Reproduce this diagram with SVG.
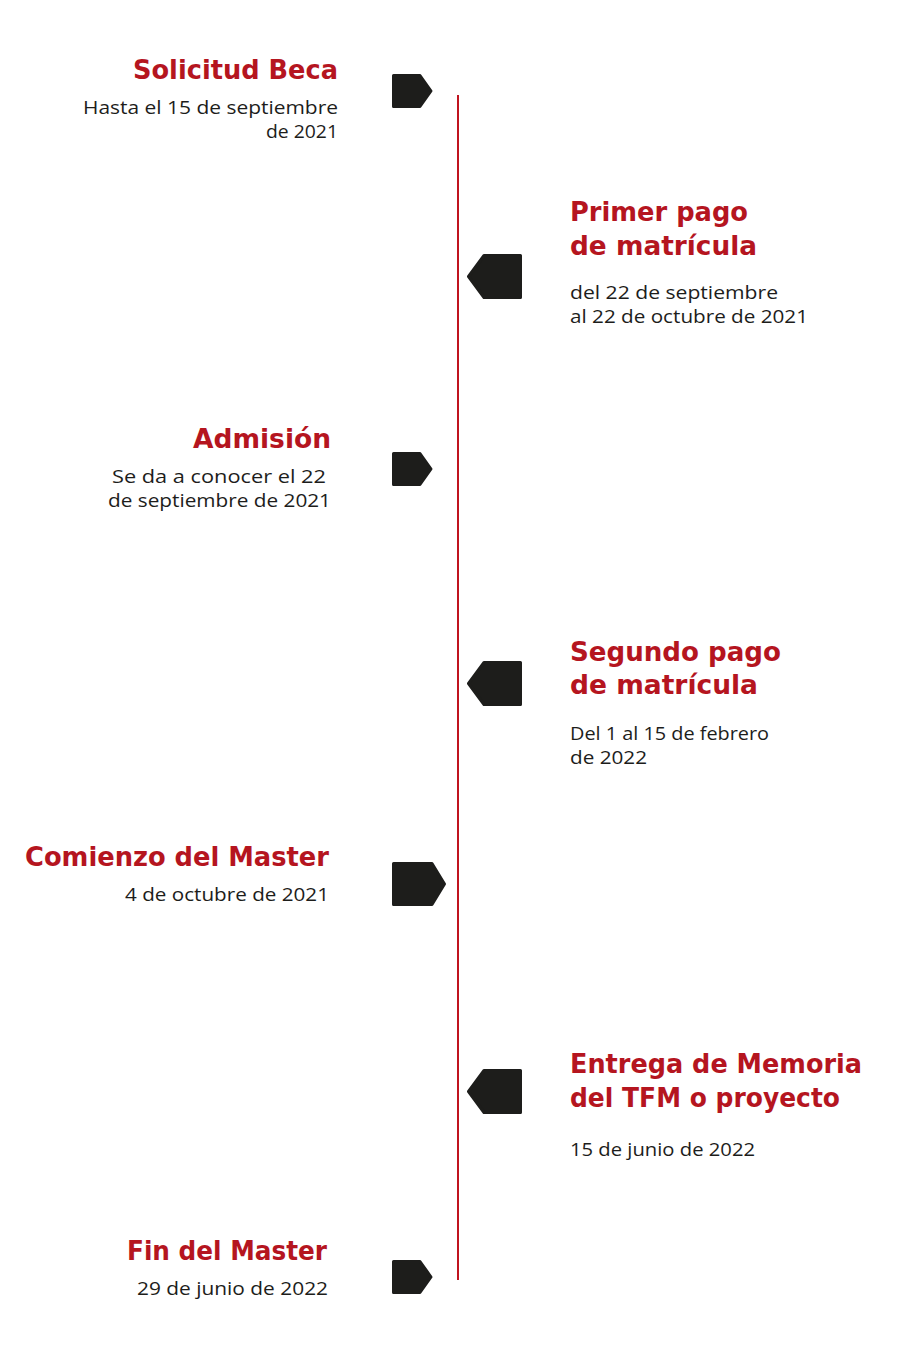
<svg xmlns="http://www.w3.org/2000/svg" width="905" height="1353" viewBox="0 0 905 1353">
<style>
.t{font-family:"DejaVu Sans","Liberation Sans",sans-serif;font-weight:700;font-size:26px;fill:#b5151f}
.s{font-family:"Open Sans","Liberation Sans",sans-serif;font-weight:400;font-size:18.5px;fill:#1d1d1b}
.e{text-anchor:end}
.m{fill:#1d1d1b;stroke:#1d1d1b;stroke-width:3;stroke-linejoin:round}
</style>
<rect width="905" height="1353" fill="#ffffff"/>
<g id="connectors">
<line x1="458" y1="95" x2="458" y2="1280" stroke="#c0141f" stroke-width="2"/>
</g>
<g id="solicitud">
<path class="m" d="M393.5,75.5 H420 L431,91 L420,106.5 H393.5 Z"/>
<text class="t e" x="338" y="79" textLength="205" lengthAdjust="spacingAndGlyphs">Solicitud Beca</text>
<text class="s e" x="338" y="114" textLength="255" lengthAdjust="spacingAndGlyphs">Hasta el 15 de septiembre</text>
<text class="s e" x="338" y="138" textLength="72" lengthAdjust="spacingAndGlyphs">de 2021</text>
</g>
<g id="primer">
<path class="m" d="M520.5,255.5 H484 L468.5,276.5 L484,297.5 H520.5 Z"/>
<text class="t" x="570" y="221" textLength="178" lengthAdjust="spacingAndGlyphs">Primer pago</text>
<text class="t" x="570" y="255" textLength="187" lengthAdjust="spacingAndGlyphs">de matrícula</text>
<text class="s" x="570" y="299" textLength="208" lengthAdjust="spacingAndGlyphs">del 22 de septiembre</text>
<text class="s" x="570" y="323" textLength="238" lengthAdjust="spacingAndGlyphs">al 22 de octubre de 2021</text>
</g>
<g id="admision">
<path class="m" d="M393.5,453.5 H420 L431,469 L420,484.5 H393.5 Z"/>
<text class="t e" x="331" y="448" textLength="138" lengthAdjust="spacingAndGlyphs">Admisión</text>
<text class="s e" x="326" y="483" textLength="214" lengthAdjust="spacingAndGlyphs">Se da a conocer el 22</text>
<text class="s e" x="331" y="507" textLength="223" lengthAdjust="spacingAndGlyphs">de septiembre de 2021</text>
</g>
<g id="segundo">
<path class="m" d="M520.5,662.5 H484 L468.5,683.5 L484,704.5 H520.5 Z"/>
<text class="t" x="570" y="661" textLength="211" lengthAdjust="spacingAndGlyphs">Segundo pago</text>
<text class="t" x="570" y="694" textLength="188" lengthAdjust="spacingAndGlyphs">de matrícula</text>
<text class="s" x="570" y="740" textLength="199" lengthAdjust="spacingAndGlyphs">Del 1 al 15 de febrero</text>
<text class="s" x="570" y="764" textLength="77" lengthAdjust="spacingAndGlyphs">de 2022</text>
</g>
<g id="comienzo">
<path class="m" d="M393.5,863.5 H432 L444.5,884 L432,904.5 H393.5 Z"/>
<text class="t e" x="329" y="866" textLength="304" lengthAdjust="spacingAndGlyphs">Comienzo del Master</text>
<text class="s e" x="329" y="901" textLength="204" lengthAdjust="spacingAndGlyphs">4 de octubre de 2021</text>
</g>
<g id="entrega">
<path class="m" d="M520.5,1070.5 H484 L468.5,1091.5 L484,1112.5 H520.5 Z"/>
<text class="t" x="570" y="1073" textLength="292" lengthAdjust="spacingAndGlyphs">Entrega de Memoria</text>
<text class="t" x="570" y="1107" textLength="270" lengthAdjust="spacingAndGlyphs">del TFM o proyecto</text>
<text class="s" x="570" y="1156" textLength="185" lengthAdjust="spacingAndGlyphs">15 de junio de 2022</text>
</g>
<g id="fin">
<path class="m" d="M393.5,1261.5 H420 L431,1277 L420,1292.5 H393.5 Z"/>
<text class="t e" x="327" y="1260" textLength="200" lengthAdjust="spacingAndGlyphs">Fin del Master</text>
<text class="s e" x="328" y="1295" textLength="191" lengthAdjust="spacingAndGlyphs">29 de junio de 2022</text>
</g>
</svg>
